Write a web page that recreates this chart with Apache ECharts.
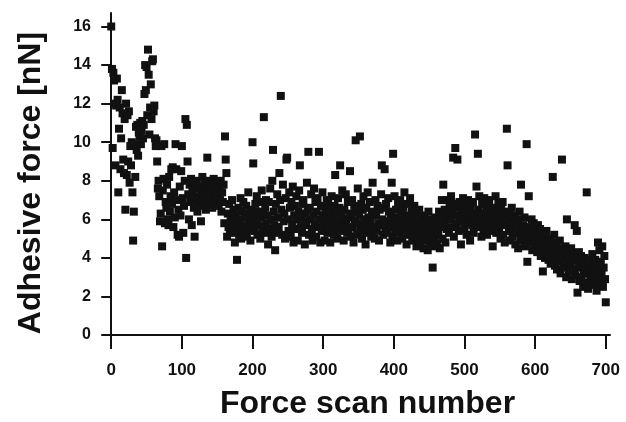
<!DOCTYPE html>
<html>
<head>
<meta charset="utf-8">
<script src="https://cdn.jsdelivr.net/npm/echarts@6.0.0/dist/echarts.min.js"></script>
<style>
  html, body { margin: 0; padding: 0; background: #fff; }
  #chart { width: 626px; height: 422px; }
</style>
</head>
<body>
<div id="chart"></div>
<script>
/* Adhesive force vs. force scan number (scatter) */
var xTicks = [0, 100, 200, 300, 400, 500, 600, 700];
var yTicks = [0, 2, 4, 6, 8, 10, 12, 14, 16];

// one value per force scan, scan number = position in the list (0 .. 700)
var adhesiveForce = [
  16.0, 13.8, 9.7, 13.6, 13.2, 12.0, 8.8, 11.9, 13.3, 12.2,
  7.4, 10.7, 11.8, 8.6, 10.2, 12.7, 11.5, 9.1, 8.4, 11.2,
  6.5, 12.0, 8.3, 11.4, 9.0, 11.6, 7.9, 9.8, 8.8, 10.0,
  7.4, 4.9, 6.4, 9.9, 8.2, 10.8, 9.6, 10.9, 9.3, 10.5,
  10.3, 11.0, 9.9, 10.6, 11.1, 10.2, 10.9, 12.5, 14.0, 12.7,
  13.9, 11.4, 14.8, 13.5, 10.4, 11.8, 13.0, 11.2, 14.2, 14.3,
  11.6, 11.9, 10.2, 9.8, 10.1, 9.0, 7.6, 8.0, 7.2, 5.9,
  6.3, 9.8, 4.6, 7.5, 8.1, 9.9, 5.8, 6.9, 6.6, 7.8,
  6.0, 5.7, 8.2, 6.4, 7.2, 8.6, 6.8, 8.7, 5.6, 7.4,
  6.1, 9.9, 8.6, 7.0, 5.2, 6.5, 5.1, 7.7, 6.2, 8.5,
  9.8, 7.1, 5.3, 6.7, 8.0, 11.2, 4.0, 10.9, 9.0, 7.3,
  6.0, 7.8, 6.9, 8.1, 5.7, 7.5, 7.0, 6.6, 5.1, 7.9,
  7.2, 8.0, 6.4, 7.6, 7.1, 6.8, 7.7, 5.9, 7.4, 8.2,
  6.7, 7.3, 7.9, 7.0, 6.5, 7.6, 9.2, 7.2, 8.0, 6.9,
  7.5, 7.8, 7.1, 6.6, 7.4, 8.1, 7.0, 7.7, 6.8, 7.3,
  7.9, 7.2, 6.7, 7.6, 7.0, 8.0, 6.4, 7.4, 6.9, 7.8,
  5.8, 10.3, 9.1, 8.4, 5.1, 6.3, 5.6, 6.8, 5.4, 6.1,
  5.9, 7.0, 5.3, 6.5, 5.7, 4.8, 6.2, 5.5, 3.9, 6.0,
  6.6, 5.2, 5.8, 7.1, 5.0, 6.4, 5.6, 6.9, 5.3, 6.1,
  5.7, 6.7, 5.1, 6.3, 7.4, 5.5, 6.0, 4.9, 6.5, 5.8,
  10.0, 8.9, 6.2, 5.4, 6.8, 5.9, 7.2, 5.2, 6.4, 5.7,
  6.9, 5.0, 6.1, 7.5, 5.6, 6.3, 11.3, 5.3, 6.6, 7.0,
  5.8, 6.2, 4.7, 6.9, 5.5, 7.6, 6.0, 5.1, 8.0, 9.6,
  6.4, 5.7, 4.4, 6.8, 5.3, 7.3, 6.1, 5.6, 8.4, 7.0,
  12.4, 6.5, 5.2, 7.8, 5.9, 6.3, 5.0, 7.1, 9.1, 9.2,
  6.0, 5.4, 7.4, 6.6, 5.1, 6.9, 5.8, 7.7, 4.8, 6.2,
  6.7, 5.5, 7.2, 6.0, 4.9, 6.4, 7.5, 8.8, 5.6, 6.1,
  5.3, 6.8, 7.0, 5.7, 4.7, 6.3, 5.9, 7.9, 6.5, 9.5,
  5.2, 6.6, 6.0, 7.3, 5.5, 4.9, 6.2, 7.6, 5.8, 6.9,
  5.1, 6.4, 7.1, 5.6, 9.5, 6.0, 4.8, 6.7, 5.4, 7.4,
  6.2, 5.7, 4.9, 6.5, 5.9, 7.0, 5.3, 6.8, 6.1, 5.5,
  4.8, 6.4, 7.2, 5.8, 6.0, 5.2, 6.7, 8.3, 5.6, 6.3,
  5.0, 7.1, 5.9, 6.6, 8.8, 5.4, 6.2, 7.5, 5.7, 4.9,
  6.5, 5.8, 7.3, 6.0, 5.3, 6.9, 5.5, 6.3, 8.5, 5.1,
  6.1, 7.0, 5.6, 4.8, 6.7, 5.9, 10.1, 6.4, 5.2, 7.6,
  5.8, 6.2, 10.3, 5.4, 6.8, 5.0, 6.5, 7.2, 5.7, 6.0,
  4.7, 6.6, 5.3, 7.4, 6.1, 5.5, 6.9, 5.9, 5.1, 6.3,
  7.9, 5.6, 6.4, 5.0, 7.0, 6.2, 5.4, 6.7, 5.8, 4.9,
  6.5, 5.7, 7.3, 8.8, 6.0, 5.2, 6.6, 8.6, 5.5, 6.8,
  5.9, 5.3, 7.1, 6.4, 5.6, 4.8, 6.2, 7.9, 5.1, 9.4,
  6.0, 7.2, 5.5, 6.5, 5.8, 4.9, 6.9, 6.1, 5.3, 7.0,
  5.7, 6.3, 5.0, 6.6, 5.9, 7.4, 5.4, 6.2, 4.7, 6.8,
  5.6, 6.0, 5.2, 7.1, 5.8, 6.4, 4.9, 6.1, 5.5, 6.7,
  5.3, 5.9, 4.6, 6.3, 5.1, 5.7, 6.5, 4.8, 5.5, 6.0,
  5.0, 5.8, 4.5, 6.2, 5.4, 4.9, 5.9, 5.2, 4.4, 6.4,
  5.6, 4.8, 5.3, 6.0, 4.6, 3.5, 5.7, 5.1, 4.9, 6.1,
  5.4, 4.7, 5.9, 5.2, 6.4, 4.5, 5.6, 6.2, 7.0, 5.0,
  7.8, 5.8, 6.5, 4.8, 6.1, 5.5, 7.0, 6.3, 5.3, 6.7,
  6.0, 7.2, 5.6, 6.4, 9.2, 5.1, 6.8, 9.7, 6.2, 5.8,
  9.1, 6.6, 5.4, 6.9, 6.1, 4.7, 6.5, 5.9, 7.1, 6.3,
  5.5, 6.7, 6.0, 5.2, 6.4, 7.0, 5.8, 6.2, 4.9, 6.6,
  6.1, 5.7, 6.9, 5.3, 6.3, 10.4, 6.0, 7.7, 5.6, 9.4,
  6.5, 7.2, 5.9, 6.2, 5.1, 6.8, 6.3, 5.5, 7.1, 6.0,
  5.7, 6.4, 5.2, 6.7, 6.1, 7.0, 5.4, 6.5, 5.8, 6.2,
  4.6, 6.0, 6.6, 5.6, 7.2, 5.3, 6.3, 5.9, 6.8, 5.5,
  6.1, 5.0, 6.5, 5.7, 6.9, 5.2, 6.2, 4.8, 6.4, 5.8,
  10.7, 8.8, 6.0, 5.4, 6.3, 4.9, 5.7, 6.6, 5.1, 5.9,
  5.5, 6.2, 4.7, 5.8, 5.3, 6.0, 4.5, 5.6, 6.4, 5.0,
  7.8, 5.4, 4.9, 5.7, 5.2, 6.1, 4.6, 5.5, 9.9, 3.8,
  5.0, 7.2, 5.6, 4.8, 5.3, 6.0, 4.4, 5.1, 5.8, 4.7,
  5.4, 4.9, 5.2, 4.3, 5.7, 4.6, 5.0, 5.5, 4.1, 4.8,
  5.3, 3.3, 4.5, 5.1, 4.0, 4.7, 5.4, 4.2, 4.9, 3.9,
  4.6, 5.0, 3.7, 4.4, 4.8, 8.2, 4.1, 5.2, 3.6, 4.3,
  4.7, 3.4, 4.0, 4.5, 3.8, 4.9, 3.2, 4.2, 9.1, 3.9,
  4.4, 3.5, 4.1, 4.6, 3.0, 6.0, 3.7, 4.3, 3.3, 4.0,
  3.6, 4.5, 2.9, 3.9, 4.2, 3.4, 5.7, 3.1, 4.0, 5.4,
  2.2, 3.7, 4.3, 2.8, 3.5, 4.1, 3.0, 3.8, 2.5, 3.3,
  4.0, 2.7, 3.6, 7.4, 3.2, 2.4, 3.9, 3.4, 2.9, 3.7,
  3.1, 4.2, 2.6, 3.5, 2.8, 3.9, 3.3, 2.3, 3.6, 4.8,
  3.0, 4.4, 2.7, 3.8, 3.2, 4.6, 2.5, 3.5, 4.1, 2.9,
  1.7
];

(function(){
  var font = '"Liberation Sans", Arial, Helvetica, sans-serif';
  var ink = '#111';

  var points = adhesiveForce.map(function(v, i){ return [i, v]; });

  var chart = echarts.init(document.getElementById('chart'), null, { renderer: 'canvas' });
  chart.setOption({
    animation: false,
    backgroundColor: '#fff',
    grid: { left: 107, right: 16, top: 13, bottom: 85, outerBoundsMode: 'none' },
    xAxis: {
      type: 'value',
      min: -6,
      max: 706,
      name: 'Force scan number',
      nameLocation: 'middle',
      nameGap: 51,
      nameTextStyle: { fontFamily: font, fontWeight: 'bold', fontSize: 32, color: ink, padding: [0, 0, 0, 18] },
      axisLine: { show: true, lineStyle: { color: ink, width: 2 } },
      axisTick: { show: true, customValues: xTicks, length: 14, lineStyle: { color: ink, width: 2 } },
      axisLabel: { customValues: xTicks, margin: 25, fontFamily: font, fontWeight: 'bold', fontSize: 17, color: ink },
      splitLine: { show: false }
    },
    yAxis: {
      type: 'value',
      min: -0.1,
      max: 16.7,
      name: 'Adhesive force [nN]',
      nameLocation: 'middle',
      nameGap: 60,
      // right padding nudges the rotated title a little downwards
      nameTextStyle: { fontFamily: font, fontWeight: 'bold', fontSize: 32, color: ink, padding: [0, 16, 0, 0] },
      axisLine: { show: true, lineStyle: { color: ink, width: 2 } },
      axisTick: { show: true, customValues: yTicks, length: 10, lineStyle: { color: ink, width: 2 } },
      axisLabel: { customValues: yTicks, margin: 16, fontFamily: font, fontWeight: 'bold', fontSize: 16, color: ink },
      splitLine: { show: false }
    },
    series: [{
      type: 'scatter',
      data: points,
      symbol: 'rect',
      symbolSize: 8,
      itemStyle: { color: ink, opacity: 1 },
      emphasis: { disabled: true }
    }]
  });
})();
</script>
</body>
</html>
